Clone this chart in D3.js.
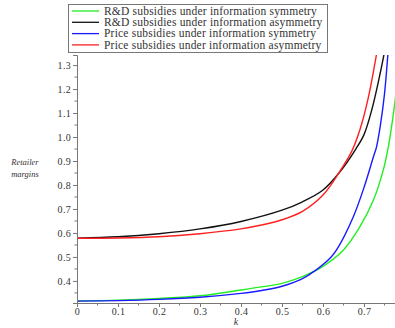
<!DOCTYPE html>
<html>
<head>
<meta charset="utf-8">
<script src="https://cdn.jsdelivr.net/npm/d3@7"></script>
<style>
  body { margin: 0; background: #fff; }
</style>
</head>
<body>
<svg id="chart" width="395" height="328"></svg>
<script>
// values
let kRD = [0, 0.1, 0.2, 0.3, 0.4, 0.45, 0.5, 0.55, 0.58, 0.593, 0.65, 0.69, 0.723, 0.747, 0.758, 0.767, 0.776, 0.785];
let rdSym = [0.317, 0.32, 0.327, 0.338, 0.362, 0.375, 0.39, 0.418, 0.442, 0.453, 0.529, 0.626, 0.737, 0.862, 0.946, 1.04, 1.154, 1.29];

let kRDa = [0, 0.1, 0.2, 0.3, 0.4, 0.5, 0.55, 0.6, 0.64, 0.68, 0.7, 0.72, 0.74, 0.755];
let rdAsym = [0.578, 0.584, 0.597, 0.617, 0.648, 0.695, 0.73, 0.779, 0.852, 0.95, 1.01, 1.12, 1.27, 1.40];

let kPS = [0, 0.1, 0.2, 0.3, 0.4, 0.45, 0.5, 0.55, 0.58, 0.62, 0.633, 0.674, 0.702, 0.723, 0.73, 0.74, 0.75, 0.758, 0.765];
let psSym = [0.316, 0.318, 0.323, 0.332, 0.348, 0.36, 0.378, 0.41, 0.442, 0.50, 0.529, 0.668, 0.80, 0.918, 0.955, 1.05, 1.18, 1.34, 1.5];

let kPSa = [0, 0.1, 0.2, 0.3, 0.4, 0.45, 0.5, 0.55, 0.6, 0.64, 0.67, 0.69, 0.71, 0.73, 0.74];
let psAsym = [0.578, 0.579, 0.584, 0.597, 0.617, 0.633, 0.655, 0.69, 0.758, 0.854, 0.94, 1.03, 1.16, 1.34, 1.45];

let seriesNames = ["R&D subsidies under information symmetry", "R&D subsidies under information asymmetry",
                   "Price subsidies under information symmetry", "Price subsidies under information asymmetry"];
let seriesColors = ["#22ee22", "#111111", "#1a1aff", "#ff2020"];
let xTicks = [0, 0.1, 0.2, 0.3, 0.4, 0.5, 0.6, 0.7];
let yTicks = [0.4, 0.5, 0.6, 0.7, 0.8, 0.9, 1.0, 1.1, 1.2, 1.3];

var serif = "'Liberation Serif', 'Times New Roman', 'DejaVu Serif', serif";
var svg = d3.select("#chart").attr("font-family", serif);

var x = d3.scaleLinear().domain([0, 0.7756]).range([77, 395]);
var y = d3.scaleLinear().domain([0.308, 1.342]).range([303, 55]);

// clip so curves stop at the top of the plot
svg.append("clipPath").attr("id", "clip")
    .append("rect").attr("x", 77).attr("y", 55).attr("width", 318).attr("height", 248);

var series = [
    {k: kRD, v: rdSym},
    {k: kRDa, v: rdAsym},
    {k: kPS, v: psSym},
    {k: kPSa, v: psAsym}
];

var line = d3.line()
    .x(function(d) { return x(d[0]); })
    .y(function(d) { return y(d[1]); })
    .curve(d3.curveCatmullRom.alpha(0.5));

svg.append("g").attr("clip-path", "url(#clip)")
    .selectAll("path")
    .data(series)
    .enter().append("path")
    .attr("fill", "none")
    .attr("stroke", function(d, i) { return seriesColors[i]; })
    .attr("stroke-width", 1.4)
    .attr("d", function(d) { return line(d.k.map(function(kk, j) { return [kk, d.v[j]]; })); });

// axes
var axisColor = "#777";
var xAxis = svg.append("g").attr("transform", "translate(0,303)")
    .call(d3.axisBottom(x).tickValues(xTicks).tickSize(4).tickFormat(d3.format("")));
var yAxis = svg.append("g").attr("transform", "translate(77,0)")
    .call(d3.axisLeft(y).tickValues(yTicks).tickSize(4).tickFormat(d3.format(".1f")));

[xAxis, yAxis].forEach(function(a) {
    a.attr("font-family", serif).attr("font-size", 10);
    a.select(".domain").attr("stroke", axisColor);
    a.selectAll(".tick line").attr("stroke", axisColor);
    a.selectAll("text").attr("fill", "#333").style("letter-spacing", "0.3px");
});
yAxis.selectAll("text").attr("x", -6);
xAxis.selectAll("text").attr("y", 5);

// minor ticks
var xMinor = d3.range(0.05, 0.78, 0.1);
svg.append("g").selectAll("line").data(xMinor).enter().append("line")
    .attr("x1", function(d) { return x(d); }).attr("x2", function(d) { return x(d); })
    .attr("y1", 303).attr("y2", 305.5).attr("stroke", axisColor);
var yMinor = d3.range(0.35, 1.34, 0.1);
svg.append("g").selectAll("line").data(yMinor).enter().append("line")
    .attr("y1", function(d) { return y(d); }).attr("y2", function(d) { return y(d); })
    .attr("x1", 74.5).attr("x2", 77).attr("stroke", axisColor);

// axis labels
svg.append("text").attr("x", 236).attr("y", 325).attr("text-anchor", "middle")
    .style("font-size", "10px").style("font-style", "italic").attr("fill", "#333").text("k");
svg.append("text").attr("x", 25).attr("y", 165).attr("text-anchor", "middle")
    .style("font-size", "8.5px").style("font-style", "italic").attr("fill", "#333").text("Retailer");
svg.append("text").attr("x", 25).attr("y", 177).attr("text-anchor", "middle")
    .style("font-size", "8.5px").style("font-style", "italic").attr("fill", "#333").text("margins");

// legend
var legend = svg.append("g");
legend.append("rect").attr("x", 68.5).attr("y", 4.5).attr("width", 259).attr("height", 48)
    .attr("fill", "#fff").attr("stroke", "#777").attr("stroke-width", 1);
var items = legend.selectAll("g.item").data(seriesNames).enter().append("g")
    .attr("transform", function(d, i) { return "translate(0," + (11 + i * 11.3) + ")"; });
items.append("line").attr("x1", 72).attr("x2", 99).attr("y1", 0).attr("y2", 0)
    .attr("stroke", function(d, i) { return seriesColors[i]; }).attr("stroke-width", 1.3);
items.append("text").attr("x", 104).attr("y", 3.8)
    .style("font-size", "11.5px").style("letter-spacing", "0.2px")
    .attr("fill", "#333").text(function(d) { return d; });
</script>
</body>
</html>
